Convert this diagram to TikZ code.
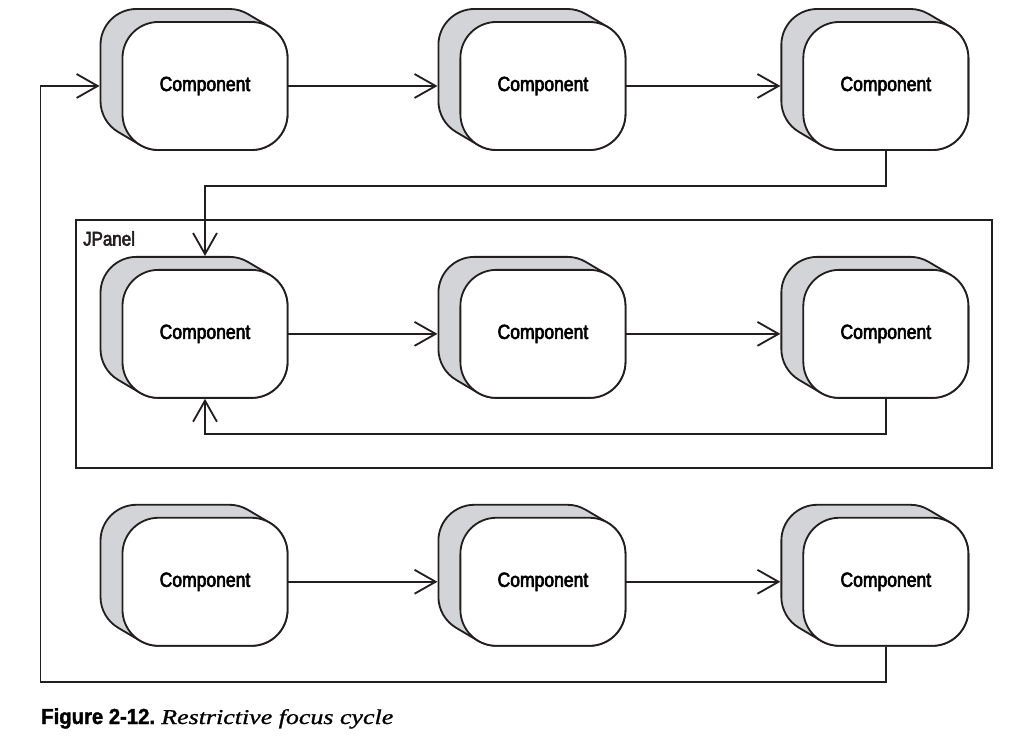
\documentclass[tikz,border=0pt]{standalone}
\usepackage{fontspec}
\usepackage{xcolor}
\usepackage{tikz}
\usetikzlibrary{arrows.meta,positioning,calc,backgrounds}
\newfontfamily\compfont{Liberation Sans}[FakeStretch=0.86,FakeBold=3]
\newfontfamily\capfont{Liberation Sans}[FakeStretch=0.93,FakeBold=1.5]
\newfontfamily\capserif{Liberation Serif}[FakeStretch=1.23,FakeBold=1]
\definecolor{inkblack}{HTML}{231F20}
\definecolor{slabgrey}{HTML}{D3D4D8}
\newcommand{\compback}[1]{%
  \filldraw[slab] ($(#1.center)+(42.82,71.99)$) arc[start angle=59.42,end angle=90,radius=0.9cm]
    -- ++(-93,0) arc[start angle=90,end angle=180,radius=0.9cm]
    -- ++(0,-56) arc[start angle=180,end angle=239.42,radius=0.9cm]
    -- ++(22,-13) arc[start angle=239.42,end angle=270,radius=0.9cm]
    -- ++(93,0) arc[start angle=270,end angle=360,radius=0.9cm]
    -- ++(0,56) arc[start angle=0,end angle=59.42,radius=0.9cm] -- cycle;}

\begin{document}
\begin{tikzpicture}[
  x=0.025cm,y=0.025cm,
  comp/.style={draw=inkblack,fill=white,line width=1.3pt,rounded corners=0.9cm,
    minimum width=4.125cm,minimum height=3.2cm,inner sep=0pt,
    font=\compfont\fontsize{14.5}{17}\selectfont},
  slab/.style={draw=inkblack,fill=slabgrey,line width=1.3pt},
  conn/.style={draw=inkblack,line width=1.3pt,-{Straight Barb[length=15pt,width=17pt]}},
  panelbox/.style={draw=inkblack,line width=1.4pt,minimum width=22.9cm,minimum height=6.2cm,inner sep=0pt},
  lbl/.style={font=\compfont\fontsize{14}{16}\selectfont,inner sep=0pt,text=inkblack}]
\useasboundingbox (0,0) rectangle (1029,735);
\node[panelbox] (panel) at (534,391) {};
\node[lbl,anchor=north west] (jpanel) at ($(panel.north west)+(8,-12)$) {JPanel};
\node[comp] (t1) at (205,649) {Component};
\node[comp,right=4.275cm of t1] (t2) {Component};
\node[comp,right=4.4cm of t2] (t3) {Component};
\node[comp,below=2.95cm of t1] (p1) {Component};
\node[comp,below=2.95cm of t2] (p2) {Component};
\node[comp,below=2.95cm of t3] (p3) {Component};
\node[comp,below=2.95cm of p1] (b1) {Component};
\node[comp,below=2.95cm of p2] (b2) {Component};
\node[comp,below=2.95cm of p3] (b3) {Component};
\begin{scope}[on background layer]
\foreach \n in {t1,t2,t3,p1,p2,p3,b1,b2,b3} {\compback{\n}}
\end{scope}
\coordinate[left=2.025cm of t1] (loop);
\draw[conn,shorten >=0.55cm] (t1) -- (t2);
\draw[conn,shorten >=0.55cm] (t2) -- (t3);
\draw[conn,shorten >=0.325cm] (t3.south) -- ++(0,-35) -| (p1.north);
\draw[conn,shorten >=0.55cm] (p1) -- (p2);
\draw[conn,shorten >=0.55cm] (p2) -- (p3);
\draw[conn] (p3.south) -- ++(0,-35) -| (p1.south);
\draw[conn,shorten >=0.55cm] (b1) -- (b2);
\draw[conn,shorten >=0.55cm] (b2) -- (b3);
\draw[conn,shorten >=0.55cm] (b3.south) -- ++(0,-35) -| (loop) -- (t1);
\node[anchor=base west,inner sep=0pt,text=black] (caption) at (41,11)
  {{\capfont\bfseries\fontsize{15.5}{18}\selectfont Figure 2-12.} {\capserif\itshape\fontsize{15}{18}\selectfont Restrictive focus cycle}};
\end{tikzpicture}
\end{document}
